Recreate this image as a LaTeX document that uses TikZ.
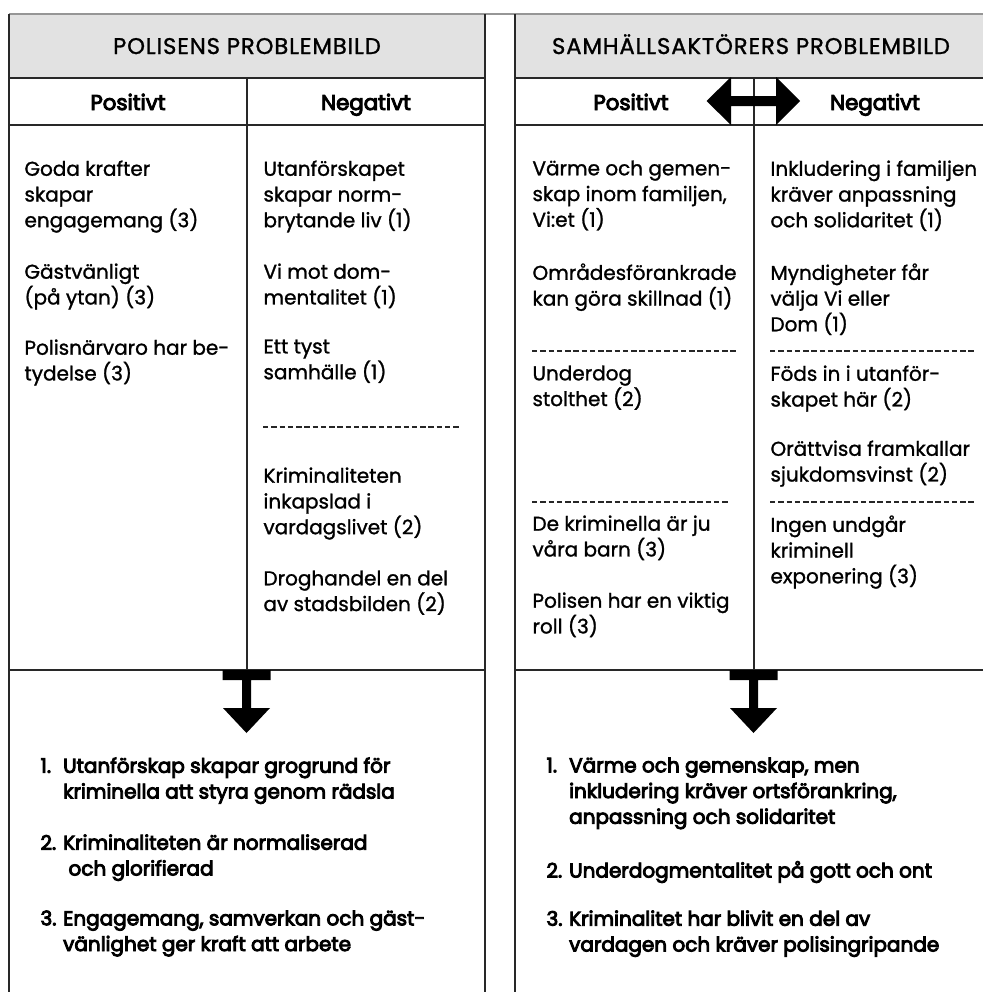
\documentclass[tikz,border=0pt]{standalone}
\usepackage{fontspec}
\setmainfont{Poppins}[FakeBold=1.2]
\newfontfamily\medfont{Poppins}[FakeBold=4.5]

\definecolor{hdrgray}{RGB}{226,226,226}
\definecolor{rulegray}{RGB}{150,150,150}
\definecolor{framecol}{RGB}{40,40,40}

\newcommand\bodysize{\fontsize{15}{19.3}\selectfont}
\newcommand\headsize{\fontsize{17}{20}\selectfont\addfontfeature{LetterSpace=4}}

\tikzset{every picture/.style={line width=0.75pt}}
\tikzset{
  frameline/.style={draw=framecol, line width=1.4pt},
  sepline/.style={draw=black!85, line width=1.1pt, dash pattern=on 4.1pt off 2.1pt},
  txt/.style={anchor=north west, inner sep=0pt, align=left, font=\bodysize, execute at begin node=\strut},
  conclusion/.style={txt, font=\medfont\bodysize},
  headtxt/.style={anchor=base, inner sep=0pt, font=\headsize},
  coltxt/.style={anchor=base, inner sep=0pt, font=\medfont\fontsize{16}{19}\selectfont},
}
\newcommand\nr[1]{\makebox[17pt][l]{#1}}

\begin{document}
\begin{tikzpicture}[x=0.75pt,y=0.75pt,yscale=-1,xscale=1]
\useasboundingbox (0,0) rectangle (983,992);

%Shape: header fills
\fill [hdrgray] (9,14) rectangle (485,78);
\fill [hdrgray] (515,14) rectangle (983,78);

%Straight Lines: top rule
\draw [rulegray, line width=1pt] (9,14) -- (983,14);

%Frame of the police panel
\draw [frameline] (9,14) -- (9,992);
\draw [frameline] (485,14) -- (485,992);
\draw [frameline] (9,78) -- (485,78);
\draw [frameline] (9,125) -- (485,125);
\draw [frameline] (9,670) -- (485,670);
\draw [frameline] (247,78) -- (247,670);

%Frame of the actors panel
\draw [frameline] (515,14) -- (515,992);
\draw [frameline] (515,78) -- (983,78);
\draw [frameline] (515,125) -- (983,125);
\draw [frameline] (515,670) -- (983,670);
\draw [frameline] (754,78) -- (754,670);

%Shape: double arrow
\fill [black] (706.5,101) -- (731,77) -- (731,96) -- (776,96) -- (776,77) -- (800,101) -- (776,125) -- (776,106) -- (731,106) -- (731,125) -- cycle;

%Shape: T arrows
\foreach \cx in {246.5,753.5}
  \fill [black] (\cx-24,670) -- (\cx+24,670) -- (\cx+24,680) -- (\cx+4.5,680) -- (\cx+4.5,708)
    -- (\cx+23.5,708) -- (\cx,733) -- (\cx-23.5,708) -- (\cx-4.5,708) -- (\cx-4.5,680) -- (\cx-24,680) -- cycle;

%Straight Lines: separators
\draw [sepline] (263,427) -- (460,427);
\draw [sepline] (532,351) -- (737,351);
\draw [sepline] (770,351) -- (975,351);
\draw [sepline] (532,502) -- (728,502);
\draw [sepline] (770,502) -- (975,502);

% Text Node: headers
\node (polhead) at (247,54) [headtxt] {POLISENS PROBLEMBILD};
\node (akthead) at (751,54) [headtxt] {SAMHÄLLSAKTÖRERS PROBLEMBILD};
\node (polpos) at (128,110) [coltxt] {Positivt};
\node (polneg) at (366,110) [coltxt] {Negativt};
\node (aktpos) at (631,110) [coltxt] {Positivt};
\node (aktneg) at (875,110) [coltxt] {Negativt};

% Text Node: police, positive
\node (pp1) at (24,160) [txt] {Goda krafter\\skapar\\engagemang (3)};
\node (pp2) at (24,263) [txt] {Gästvänligt\\(på ytan) (3)};
\node (pp3) at (24,339) [txt] {Polisnärvaro har be-\\tydelse (3)};

% Text Node: police, negative
\node (pn1) at (263,160) [txt] {Utanförskapet\\skapar norm-\\brytande liv (1)};
\node (pn2) at (263,263) [txt] {Vi mot dom-\\mentalitet (1)};
\node (pn3) at (263,339) [txt] {Ett tyst\\samhälle (1)};
\node (pn4) at (263,467) [txt] {Kriminaliteten\\inkapslad i\\vardagslivet (2)};
\node (pn5) at (263,570) [txt] {Droghandel en del\\av stadsbilden (2)};

% Text Node: actors, positive
\node (ap1) at (532,160) [txt] {Värme och gemen-\\skap inom familjen,\\Vi:et (1)};
\node (ap2) at (532,263) [txt] {Områdesförankrade\\kan göra skillnad (1)};
\node (ap3) at (532,365) [txt] {Underdog\\stolthet (2)};
\node (ap4) at (532,515) [txt] {De kriminella är ju\\våra barn (3)};
\node (ap5) at (532,592) [txt] {Polisen har en viktig\\roll (3)};

% Text Node: actors, negative
\node (an1) at (770,160) [txt] {Inkludering i familjen\\kräver anpassning\\och solidaritet (1)};
\node (an2) at (770,263) [txt] {Myndigheter får\\välja Vi eller\\Dom (1)};
\node (an3) at (770,365) [txt] {Föds in i utanför-\\skapet här (2)};
\node (an4) at (770,440) [txt] {Orättvisa framkallar\\sjukdomsvinst (2)};
\node (an5) at (770,515) [txt] {Ingen undgår\\kriminell\\exponering (3)};

% Text Node: police, conclusions
\node (pc1) at (40,757) [conclusion] {\nr{1.}Utanförskap skapar grogrund för\\\nr{}kriminella att styra genom rädsla};
\node (pc2) at (40,834) [conclusion] {\nr{2.}Kriminaliteten är normaliserad\\\nr{} och glorifierad};
\node (pc3) at (40,910) [conclusion] {\nr{3.}Engagemang, samverkan och gäst-\\\nr{}vänlighet ger kraft att arbete};

% Text Node: actors, conclusions
\node (ac1) at (546,757) [conclusion] {\nr{1.}Värme och gemenskap, men\\\nr{}inkludering kräver ortsförankring,\\\nr{}anpassning och solidaritet};
\node (ac2) at (546,859) [conclusion] {\nr{2.}Underdogmentalitet på gott och ont};
\node (ac3) at (546,910) [conclusion] {\nr{3.}Kriminalitet har blivit en del av\\\nr{}vardagen och kräver polisingripande};

\end{tikzpicture}
\end{document}
